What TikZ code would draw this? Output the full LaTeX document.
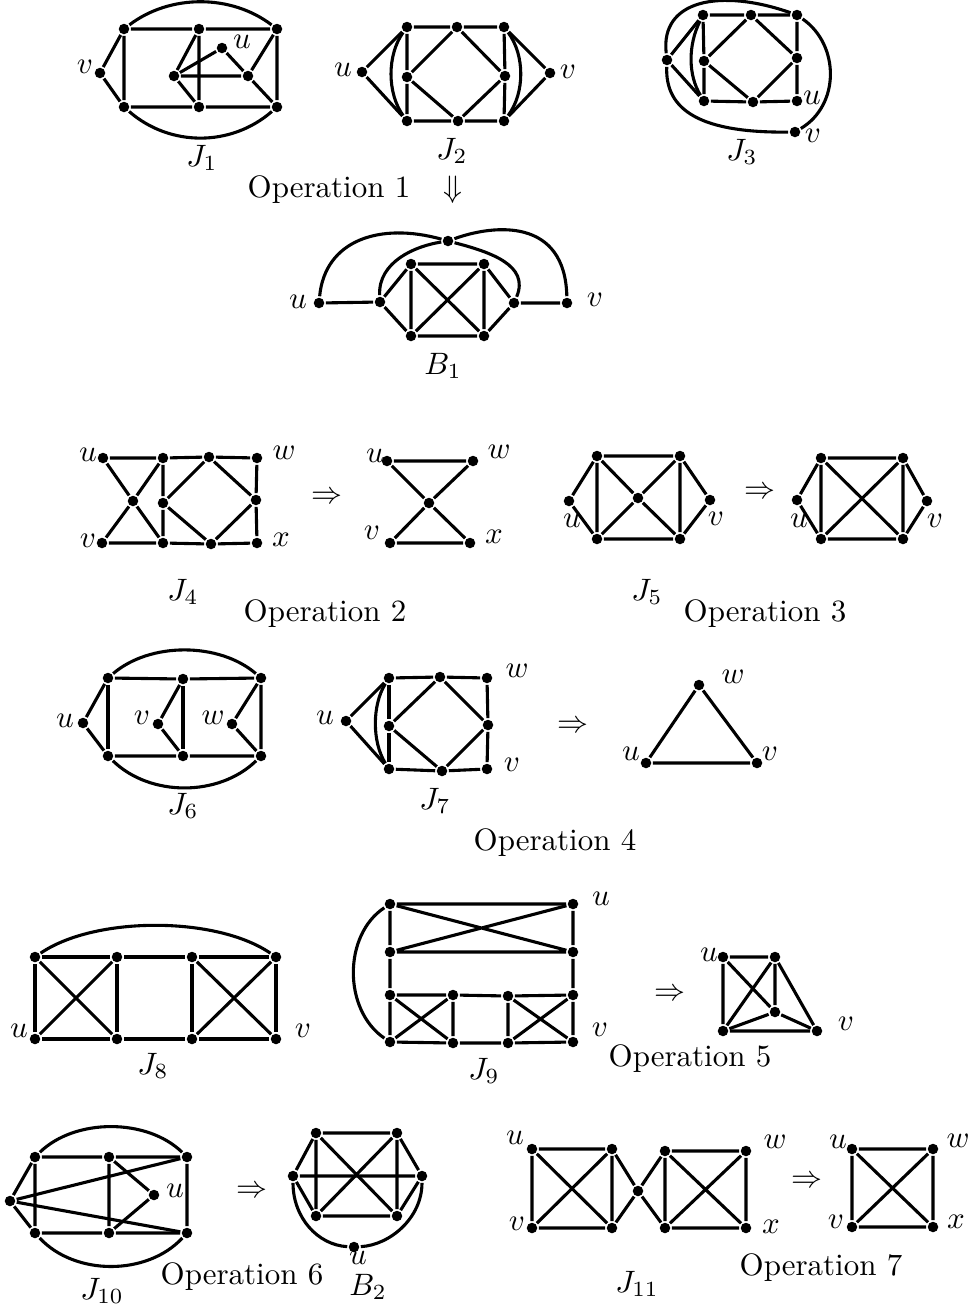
\documentclass[tikz,border=0pt]{standalone}
\usepackage{amsmath,amssymb}
\usetikzlibrary{positioning}
\tikzset{
  line cap=round,
  line join=round,
  every picture/.style={line width=1pt},
  vtx/.style={circle, fill, inner sep=1.2pt},
  lbl/.style={inner sep=0pt},
}
\begin{document}
\begin{tikzpicture}[x=0.323pt, y=-0.323pt]
  \useasboundingbox (0,0) rectangle (973,1310);

  % J1
  \node[vtx] (j1v) at (100,73) {};
  \node[vtx] (j1tl) at (124,29) {};
  \node[vtx] (j1bl) at (124,107) {};
  \node[vtx] (j1tm) at (199,29) {};
  \node[vtx] (j1bm) at (199,107) {};
  \node[vtx] (j1tr) at (277,29) {};
  \node[vtx] (j1br) at (277,107) {};
  \node[vtx] (j1u) at (222,48) {};
  \node[vtx] (j1c) at (174,76) {};
  \node[vtx] (j1r) at (248,76) {};
  \draw (j1v) -- (j1tl) -- (j1tm) -- (j1tr) -- (j1br) -- (j1bm) -- (j1bl) -- (j1v);
  \draw (j1tl) -- (j1bl) (j1tm) -- (j1bm) (j1c) -- (j1tm) (j1c) -- (j1bm);
  \draw (j1c) -- (j1u) -- (j1r) -- (j1br) (j1c) -- (j1r) -- (j1tr);
  \draw (j1tl) .. controls (170,-6) and (231,-6) .. (j1tr);
  \draw (j1bl) .. controls (170,147) and (231,147) .. (j1br);
  \node[lbl] (j1vl) at (85,67) {$v$};
  \node[lbl] (j1ul) at (242,42) {$u$};
  \node[lbl] (j1name) at (202,158) {$J_1$};

  % J2
  \node[vtx] (j2u) at (362,72) {};
  \node[vtx] (j2tl) at (407,27) {};
  \node[vtx] (j2tm) at (457,27) {};
  \node[vtx] (j2tr) at (504,27) {};
  \node[vtx] (j2ml) at (407,77) {};
  \node[vtx] (j2mr) at (505,76) {};
  \node[vtx] (j2bl) at (407,121) {};
  \node[vtx] (j2bm) at (458,121) {};
  \node[vtx] (j2br) at (504,121) {};
  \node[vtx] (j2v) at (550,73) {};
  \draw (j2u) -- (j2tl) -- (j2tm) -- (j2tr) -- (j2v) -- (j2br) -- (j2bm) -- (j2bl) -- (j2u);
  \draw (j2tl) -- (j2ml) -- (j2bl) (j2tr) -- (j2mr) -- (j2br);
  \draw (j2tm) -- (j2ml) -- (j2bm) -- (j2mr) -- (j2tm);
  \draw (j2tl) .. controls (387,55) and (387,93) .. (j2bl);
  \draw (j2tr) .. controls (525,55) and (525,93) .. (j2br);
  \node[lbl] (j2ul) at (343,70) {$u$};
  \node[lbl] (j2vl) at (568,72) {$v$};
  \node[lbl] (j2name) at (452,151) {$J_2$};

  % J3
  \node[vtx] (j3l) at (667,60) {};
  \node[vtx] (j3tl) at (703,15) {};
  \node[vtx] (j3tm) at (751,15) {};
  \node[vtx] (j3tr) at (797,15) {};
  \node[vtx] (j3ml) at (704,61) {};
  \node[vtx] (j3mr) at (797,58) {};
  \node[vtx] (j3bl) at (704,101) {};
  \node[vtx] (j3bm) at (753,102) {};
  \node[vtx] (j3u) at (797,101) {};
  \node[vtx] (j3v) at (795,132) {};
  \draw (j3l) -- (j3tl) -- (j3tm) -- (j3tr) -- (j3mr) -- (j3u) -- (j3bm) -- (j3bl) -- (j3l);
  \draw (j3tl) -- (j3ml) -- (j3bl);
  \draw (j3tm) -- (j3ml) -- (j3bm) -- (j3mr) -- (j3tm);
  \draw (j3tl) .. controls (688,45) and (688,75) .. (j3bl);
  \draw (j3l) .. controls (660,0) and (720,-12) .. (j3tr);
  \draw (j3l) .. controls (665,110) and (700,133) .. (j3v);
  \draw (j3tr) .. controls (840,45) and (840,105) .. (j3v);
  \node[lbl] (j3ul) at (812,98) {$u$};
  \node[lbl] (j3vl) at (813,136) {$v$};
  \node[lbl] (j3name) at (742,152) {$J_3$};

  % Operation 1
  \node (op1) at (329,190) {Operation 1};
  \node (op1arr) at (453,190) {$\Downarrow$};

  % B1
  \node[vtx] (b1u) at (319,303) {};
  \node[vtx] (b1l) at (380,302) {};
  \node[vtx] (b1tl) at (411,264) {};
  \node[vtx] (b1tr) at (484,264) {};
  \node[vtx] (b1bl) at (411,336) {};
  \node[vtx] (b1br) at (484,336) {};
  \node[vtx] (b1r) at (514,303) {};
  \node[vtx] (b1v) at (567,303) {};
  \node[vtx] (b1t) at (448,241) {};
  \draw (b1u) -- (b1l) -- (b1tl) -- (b1tr) -- (b1r) -- (b1v);
  \draw (b1l) -- (b1bl) -- (b1br) -- (b1r);
  \draw (b1tl) -- (b1bl) (b1tr) -- (b1br) (b1tl) -- (b1br) (b1tr) -- (b1bl);
  \draw (b1u) .. controls (325,240) and (380,222) .. (b1t);
  \draw (b1t) .. controls (490,252) and (530,265) .. (b1r);
  \draw (b1l) .. controls (378,262) and (415,246) .. (b1t);
  \draw (b1t) .. controls (495,224) and (565,218) .. (b1v);
  \node[lbl] (b1ul) at (298,302) {$u$};
  \node[lbl] (b1vl) at (595,300) {$v$};
  \node[lbl] (b1name) at (443,366) {$B_1$};

  % J4
  \node[vtx] (j4u) at (103,458) {};
  \node[vtx] (j4v) at (102,543) {};
  \node[vtx] (j4c) at (133,501) {};
  \node[vtx] (j4ta) at (163,458) {};
  \node[vtx] (j4ma) at (163,503) {};
  \node[vtx] (j4ba) at (163,543) {};
  \node[vtx] (j4tb) at (209,457) {};
  \node[vtx] (j4bb) at (211,544) {};
  \node[vtx] (j4w) at (257,458) {};
  \node[vtx] (j4mb) at (256,500) {};
  \node[vtx] (j4x) at (257,543) {};
  \draw (j4u) -- (j4ta) -- (j4tb) -- (j4w) -- (j4mb) -- (j4x) -- (j4bb) -- (j4ba) -- (j4v);
  \draw (j4u) -- (j4c) -- (j4ba) (j4v) -- (j4c) -- (j4ta) (j4ta) -- (j4ma) -- (j4ba);
  \draw (j4tb) -- (j4ma) -- (j4bb) -- (j4mb) -- (j4tb);
  \node[lbl] (j4ul) at (88,455) {$u$};
  \node[lbl] (j4vl) at (88,541) {$v$};
  \node[lbl] (j4wl) at (284,453) {$w$};
  \node[lbl] (j4xl) at (281,540) {$x$};
  \node[lbl] (j4name) at (183,592) {$J_4$};
  \node (op2arr) at (327,498) {$\Rightarrow$};

  % Operation 2 result
  \node[vtx] (o2u) at (387,461) {};
  \node[vtx] (o2w) at (473,461) {};
  \node[vtx] (o2c) at (429,503) {};
  \node[vtx] (o2v) at (390,543) {};
  \node[vtx] (o2x) at (470,543) {};
  \draw (o2u) -- (o2w) -- (o2c) -- (o2v) -- (o2x) -- (o2c) -- (o2u);
  \node[lbl] (o2ul) at (375,456) {$u$};
  \node[lbl] (o2wl) at (499,452) {$w$};
  \node[lbl] (o2vl) at (372,533) {$v$};
  \node[lbl] (o2xl) at (494,537) {$x$};
  \node (op2) at (325,614) {Operation 2};

  % J5
  \node[vtx] (j5u) at (569,501) {};
  \node[vtx] (j5tl) at (597,456) {};
  \node[vtx] (j5tr) at (680,456) {};
  \node[vtx] (j5c) at (638,498) {};
  \node[vtx] (j5bl) at (597,539) {};
  \node[vtx] (j5br) at (680,539) {};
  \node[vtx] (j5v) at (710,500) {};
  \draw (j5u) -- (j5tl) -- (j5tr) -- (j5v) -- (j5br) -- (j5bl) -- (j5u);
  \draw (j5tl) -- (j5bl) (j5tr) -- (j5br) (j5tl) -- (j5c) -- (j5br) (j5tr) -- (j5c) -- (j5bl);
  \node[lbl] (j5ul) at (572,521) {$u$};
  \node[lbl] (j5vl) at (716,519) {$v$};
  \node[lbl] (j5name) at (647,592) {$J_5$};
  \node (op3arr) at (760,493) {$\Rightarrow$};

  % Operation 3 result
  \node[vtx] (o3u) at (797,500) {};
  \node[vtx] (o3tl) at (821,458) {};
  \node[vtx] (o3tr) at (903,458) {};
  \node[vtx] (o3bl) at (821,539) {};
  \node[vtx] (o3br) at (903,539) {};
  \node[vtx] (o3v) at (927,501) {};
  \draw (o3u) -- (o3tl) -- (o3tr) -- (o3v) -- (o3br) -- (o3bl) -- (o3u);
  \draw (o3tl) -- (o3bl) (o3tr) -- (o3br) (o3tl) -- (o3br) (o3tr) -- (o3bl);
  \node[lbl] (o3ul) at (799,521) {$u$};
  \node[lbl] (o3vl) at (935,521) {$v$};
  \node (op3) at (765,614) {Operation 3};

  % J6
  \node[vtx] (j6u) at (83,723) {};
  \node[vtx] (j6tl) at (108,678) {};
  \node[vtx] (j6bl) at (108,756) {};
  \node[vtx] (j6tm) at (183,679) {};
  \node[vtx] (j6bm) at (183,756) {};
  \node[vtx] (j6tr) at (261,678) {};
  \node[vtx] (j6br) at (261,756) {};
  \node[vtx] (j6v) at (158,724) {};
  \node[vtx] (j6w) at (232,724) {};
  \draw (j6u) -- (j6tl) -- (j6tm) -- (j6tr) -- (j6br) -- (j6bm) -- (j6bl) -- (j6u);
  \draw (j6tl) -- (j6bl) (j6tm) -- (j6bm);
  \draw (j6tm) -- (j6v) -- (j6bm) (j6tr) -- (j6w) -- (j6br);
  \draw (j6tl) .. controls (150,642) and (219,642) .. (j6tr);
  \draw (j6bl) .. controls (150,797) and (219,797) .. (j6br);
  \node[lbl] (j6ul) at (65,721) {$u$};
  \node[lbl] (j6vl) at (142,718) {$v$};
  \node[lbl] (j6wl) at (213,718) {$w$};
  \node[lbl] (j6name) at (183,806) {$J_6$};

  % J7
  \node[vtx] (j7u) at (346,721) {};
  \node[vtx] (j7tl) at (389,678) {};
  \node[vtx] (j7tm) at (440,677) {};
  \node[vtx] (j7w) at (487,678) {};
  \node[vtx] (j7ml) at (389,726) {};
  \node[vtx] (j7mr) at (488,725) {};
  \node[vtx] (j7bl) at (389,769) {};
  \node[vtx] (j7bm) at (442,771) {};
  \node[vtx] (j7v) at (487,769) {};
  \draw (j7u) -- (j7tl) -- (j7tm) -- (j7w) -- (j7mr) -- (j7v) -- (j7bm) -- (j7bl) -- (j7u);
  \draw (j7tl) -- (j7ml) -- (j7bl);
  \draw (j7tm) -- (j7ml) -- (j7bm) -- (j7mr) -- (j7tm);
  \draw (j7tl) .. controls (372,705) and (372,742) .. (j7bl);
  \node[lbl] (j7ul) at (325,718) {$u$};
  \node[lbl] (j7wl) at (517,671) {$w$};
  \node[lbl] (j7vl) at (512,765) {$v$};
  \node[lbl] (j7name) at (435,801) {$J_7$};
  \node (op4arr) at (573,727) {$\Rightarrow$};

  % Operation 4 result
  \node[vtx] (o4w) at (699,685) {};
  \node[vtx] (o4u) at (646,763) {};
  \node[vtx] (o4v) at (757,763) {};
  \draw (o4w) -- (o4u) -- (o4v) -- (o4w);
  \node[lbl] (o4wl) at (733,677) {$w$};
  \node[lbl] (o4ul) at (631,754) {$u$};
  \node[lbl] (o4vl) at (770,754) {$v$};
  \node (op4) at (555,843) {Operation 4};

  % J8
  \node[vtx] (j8ta) at (35,957) {};
  \node[vtx] (j8tb) at (117,957) {};
  \node[vtx] (j8tc) at (192,957) {};
  \node[vtx] (j8td) at (276,957) {};
  \node[vtx] (j8u) at (35,1039) {};
  \node[vtx] (j8bb) at (117,1039) {};
  \node[vtx] (j8bc) at (192,1039) {};
  \node[vtx] (j8v) at (276,1039) {};
  \draw (j8ta) -- (j8tb) -- (j8tc) -- (j8td) -- (j8v) -- (j8bc) -- (j8bb) -- (j8u) -- (j8ta);
  \draw (j8tb) -- (j8bb) (j8tc) -- (j8bc);
  \draw (j8ta) -- (j8bb) (j8tb) -- (j8u) (j8tc) -- (j8v) (j8td) -- (j8bc);
  \draw (j8ta) .. controls (95,916) and (216,916) .. (j8td);
  \node[lbl] (j8ul) at (19,1031) {$u$};
  \node[lbl] (j8vl) at (303,1031) {$v$};
  \node[lbl] (j8name) at (153,1066) {$J_8$};

  % J9
  \node[vtx] (j9a) at (390,904) {};
  \node[vtx] (j9u) at (573,904) {};
  \node[vtx] (j9b) at (390,952) {};
  \node[vtx] (j9bb) at (573,952) {};
  \node[vtx] (j9c) at (390,995) {};
  \node[vtx] (j9cb) at (453,995) {};
  \node[vtx] (j9cc) at (508,996) {};
  \node[vtx] (j9cd) at (573,995) {};
  \node[vtx] (j9d) at (390,1042) {};
  \node[vtx] (j9db) at (453,1043) {};
  \node[vtx] (j9dc) at (508,1043) {};
  \node[vtx] (j9v) at (573,1042) {};
  \draw (j9a) -- (j9u) -- (j9bb) -- (j9cd) -- (j9v) -- (j9dc) -- (j9db) -- (j9d) -- (j9c) -- (j9b) -- (j9a);
  \draw (j9a) -- (j9bb) (j9u) -- (j9b) (j9b) -- (j9bb);
  \draw (j9c) -- (j9cb) -- (j9cc) -- (j9cd) (j9cb) -- (j9db) (j9cc) -- (j9dc);
  \draw (j9c) -- (j9db) (j9cb) -- (j9d) (j9cc) -- (j9v) (j9cd) -- (j9dc);
  \draw (j9a) .. controls (343,935) and (343,1010) .. (j9d);
  \node[lbl] (j9ul) at (601,899) {$u$};
  \node[lbl] (j9vl) at (600,1030) {$v$};
  \node[lbl] (j9name) at (484,1071) {$J_9$};
  \node (op5arr) at (670,995) {$\Rightarrow$};

  % Operation 5 result
  \node[vtx] (o5u) at (723,957) {};
  \node[vtx] (o5t) at (775,957) {};
  \node[vtx] (o5m) at (775,1012) {};
  \node[vtx] (o5b) at (723,1031) {};
  \node[vtx] (o5v) at (817,1031) {};
  \draw (o5u) -- (o5t) -- (o5v) -- (o5b) -- (o5u);
  \draw (o5u) -- (o5m) -- (o5t) -- (o5b) -- (o5m) -- (o5v);
  \node[lbl] (o5ul) at (709,955) {$u$};
  \node[lbl] (o5vl) at (846,1024) {$v$};
  \node (op5) at (690,1059) {Operation 5};

  % J10
  \node[vtx] (j10l) at (10,1201) {};
  \node[vtx] (j10tl) at (35,1157) {};
  \node[vtx] (j10bl) at (35,1233) {};
  \node[vtx] (j10tm) at (109,1157) {};
  \node[vtx] (j10bm) at (109,1233) {};
  \node[vtx] (j10tr) at (187,1157) {};
  \node[vtx] (j10br) at (187,1233) {};
  \node[vtx] (j10u) at (154,1195) {};
  \draw (j10l) -- (j10tl) -- (j10tm) -- (j10tr) -- (j10br) -- (j10bm) -- (j10bl) -- (j10l);
  \draw (j10tl) -- (j10bl) (j10tm) -- (j10bm) (j10tm) -- (j10u) -- (j10bm);
  \draw (j10l) -- (j10tr) (j10l) -- (j10br);
  \draw (j10tl) .. controls (75,1118) and (147,1118) .. (j10tr);
  \draw (j10bl) .. controls (75,1276) and (147,1276) .. (j10br);
  \node[lbl] (j10ul) at (175,1191) {$u$};
  \node[lbl] (j10name) at (102,1291) {$J_{10}$};
  \node (op6arr) at (252,1192) {$\Rightarrow$};
  \node (op6) at (242,1277) {Operation 6};

  % B2
  \node[vtx] (b2tl) at (316,1133) {};
  \node[vtx] (b2tr) at (397,1133) {};
  \node[vtx] (b2l) at (293,1176) {};
  \node[vtx] (b2r) at (422,1176) {};
  \node[vtx] (b2bl) at (316,1216) {};
  \node[vtx] (b2br) at (397,1216) {};
  \node[vtx] (b2u) at (354,1247) {};
  \draw (b2l) -- (b2tl) -- (b2tr) -- (b2r) -- (b2br) -- (b2bl) -- (b2l) -- (b2r);
  \draw (b2tl) -- (b2bl) (b2tr) -- (b2br) (b2tl) -- (b2br) (b2tr) -- (b2bl);
  \draw (b2l) .. controls (293,1218) and (318,1245) .. (b2u);
  \draw (b2r) .. controls (422,1218) and (390,1245) .. (b2u);
  \node[lbl] (b2ul) at (358,1258) {$u$};
  \node[lbl] (b2name) at (368,1287) {$B_2$};

  % J11
  \node[vtx] (j11u) at (532,1149) {};
  \node[vtx] (j11tb) at (612,1149) {};
  \node[vtx] (j11v) at (532,1228) {};
  \node[vtx] (j11bb) at (612,1228) {};
  \node[vtx] (j11c) at (638,1191) {};
  \node[vtx] (j11tc) at (665,1151) {};
  \node[vtx] (j11w) at (746,1151) {};
  \node[vtx] (j11bc) at (665,1228) {};
  \node[vtx] (j11x) at (746,1228) {};
  \draw (j11u) -- (j11tb) -- (j11bb) -- (j11v) -- (j11u) -- (j11bb) (j11tb) -- (j11v);
  \draw (j11tb) -- (j11c) -- (j11bb) (j11tc) -- (j11c) -- (j11bc);
  \draw (j11tc) -- (j11w) -- (j11x) -- (j11bc) -- (j11tc) -- (j11x) (j11w) -- (j11bc);
  \node[lbl] (j11ul) at (515,1138) {$u$};
  \node[lbl] (j11vl) at (517,1224) {$v$};
  \node[lbl] (j11wl) at (775,1142) {$w$};
  \node[lbl] (j11xl) at (771,1227) {$x$};
  \node[lbl] (j11name) at (637,1284) {$J_{11}$};
  \node (op7arr) at (807,1182) {$\Rightarrow$};

  % Operation 7 result
  \node[vtx] (o7u) at (852,1149) {};
  \node[vtx] (o7w) at (933,1149) {};
  \node[vtx] (o7v) at (852,1227) {};
  \node[vtx] (o7x) at (933,1227) {};
  \draw (o7u) -- (o7w) -- (o7x) -- (o7v) -- (o7u) -- (o7x) (o7w) -- (o7v);
  \node[lbl] (o7ul) at (838,1142) {$u$};
  \node[lbl] (o7wl) at (958,1141) {$w$};
  \node[lbl] (o7vl) at (836,1222) {$v$};
  \node[lbl] (o7xl) at (956,1222) {$x$};
  \node (op7) at (821,1268) {Operation 7};
\end{tikzpicture}
\end{document}
